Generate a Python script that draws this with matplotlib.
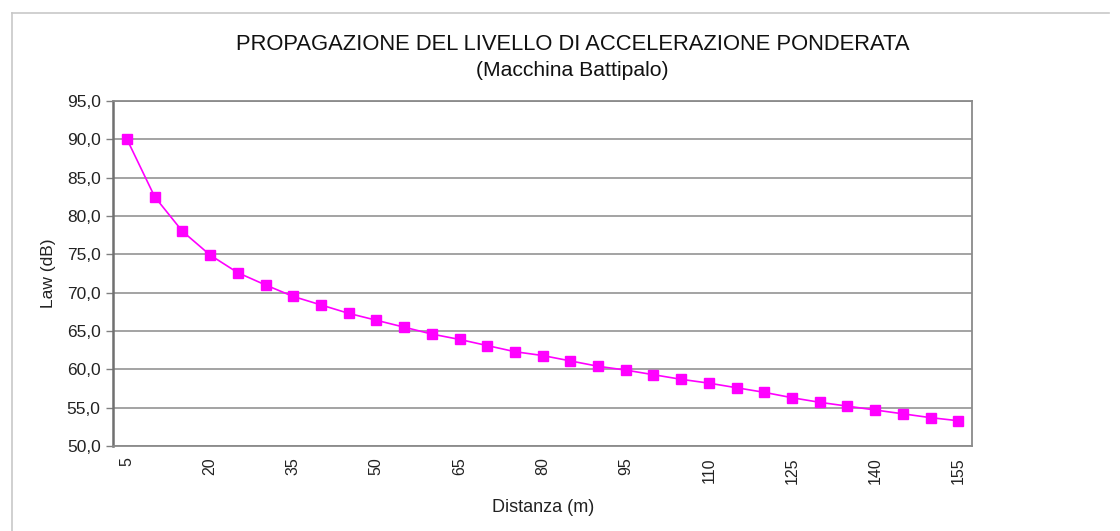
import numpy as np
import matplotlib
matplotlib.use("Agg")
import matplotlib.pyplot as plt
from matplotlib.lines import Line2D
from matplotlib.ticker import FuncFormatter

plt.rcParams['font.family'] = ['Liberation Sans', 'DejaVu Sans']

title = "PROPAGAZIONE DEL LIVELLO DI ACCELERAZIONE PONDERATA"
subtitle = "(Macchina Battipalo)"
x_label = "Distanza (m)"
y_label = "Law (dB)"

distanza = [5, 10, 15, 20, 25, 30, 35, 40, 45, 50, 55, 60, 65, 70, 75, 80,
            85, 90, 95, 100, 105, 110, 115, 120, 125, 130, 135, 140, 145, 150, 155]
law = [90.0, 82.5, 78.0, 74.9, 72.6, 71.0, 69.5, 68.4, 67.3, 66.4, 65.5, 64.6,
       63.9, 63.1, 62.3, 61.8, 61.1, 60.4, 59.9, 59.3, 58.7, 58.2, 57.6, 57.0,
       56.3, 55.7, 55.2, 54.7, 54.2, 53.7, 53.3]
x_ticks = [5, 20, 35, 50, 65, 80, 95, 110, 125, 140, 155]
y_ticks = [50, 55, 60, 65, 70, 75, 80, 85, 90, 95]

fig = plt.figure(figsize=(11.2, 5.31), dpi=100)
ax = fig.add_axes([0.101, 0.160, 0.767, 0.650])

# light frame around the whole chart
fig.add_artist(Line2D([0.0107, 0.0107], [0.0, 0.975], transform=fig.transFigure,
                      color="#c8c8c8", lw=1.2))
fig.add_artist(Line2D([0.0107, 0.99], [0.975, 0.975], transform=fig.transFigure,
                      color="#c8c8c8", lw=1.2))

ax.plot(distanza, law, color="#ff00ff", lw=1.2, marker="s", markersize=7,
        markeredgecolor="#ff00ff", markerfacecolor="#ff00ff", zorder=3)

ax.set_xlim(2.5, 157.5)
ax.set_ylim(50, 95)
ax.set_yticks(y_ticks)
ax.set_xticks(x_ticks)
ax.yaxis.set_major_formatter(FuncFormatter(lambda v, p: f"{v:.1f}".replace(".", ",")))
ax.tick_params(axis="x", length=0, pad=8, labelsize=11.5, labelrotation=90, colors="#222222")
ax.tick_params(axis="y", length=5, width=1, pad=4, labelsize=12.5, colors="#222222",
               color="#808080")

ax.grid(axis="y", color="#8a8a8a", lw=1.1)
ax.set_axisbelow(True)
for side in ["top", "right", "bottom"]:
    ax.spines[side].set_color("#8a8a8a")
    ax.spines[side].set_linewidth(1.3)
ax.spines["left"].set_color("#707070")
ax.spines["left"].set_linewidth(1.8)

ax.set_xlabel(x_label, fontsize=13, color="#222222", labelpad=11)
ax.set_ylabel(y_label, fontsize=12.5, color="#222222", labelpad=8)

fig.text(0.511, 0.917, title, ha="center", va="center", fontsize=15.8, color="#111111")
fig.text(0.511, 0.868, subtitle, ha="center", va="center", fontsize=15.2, color="#111111")

fig.savefig("out.png", dpi=100, facecolor="white")
